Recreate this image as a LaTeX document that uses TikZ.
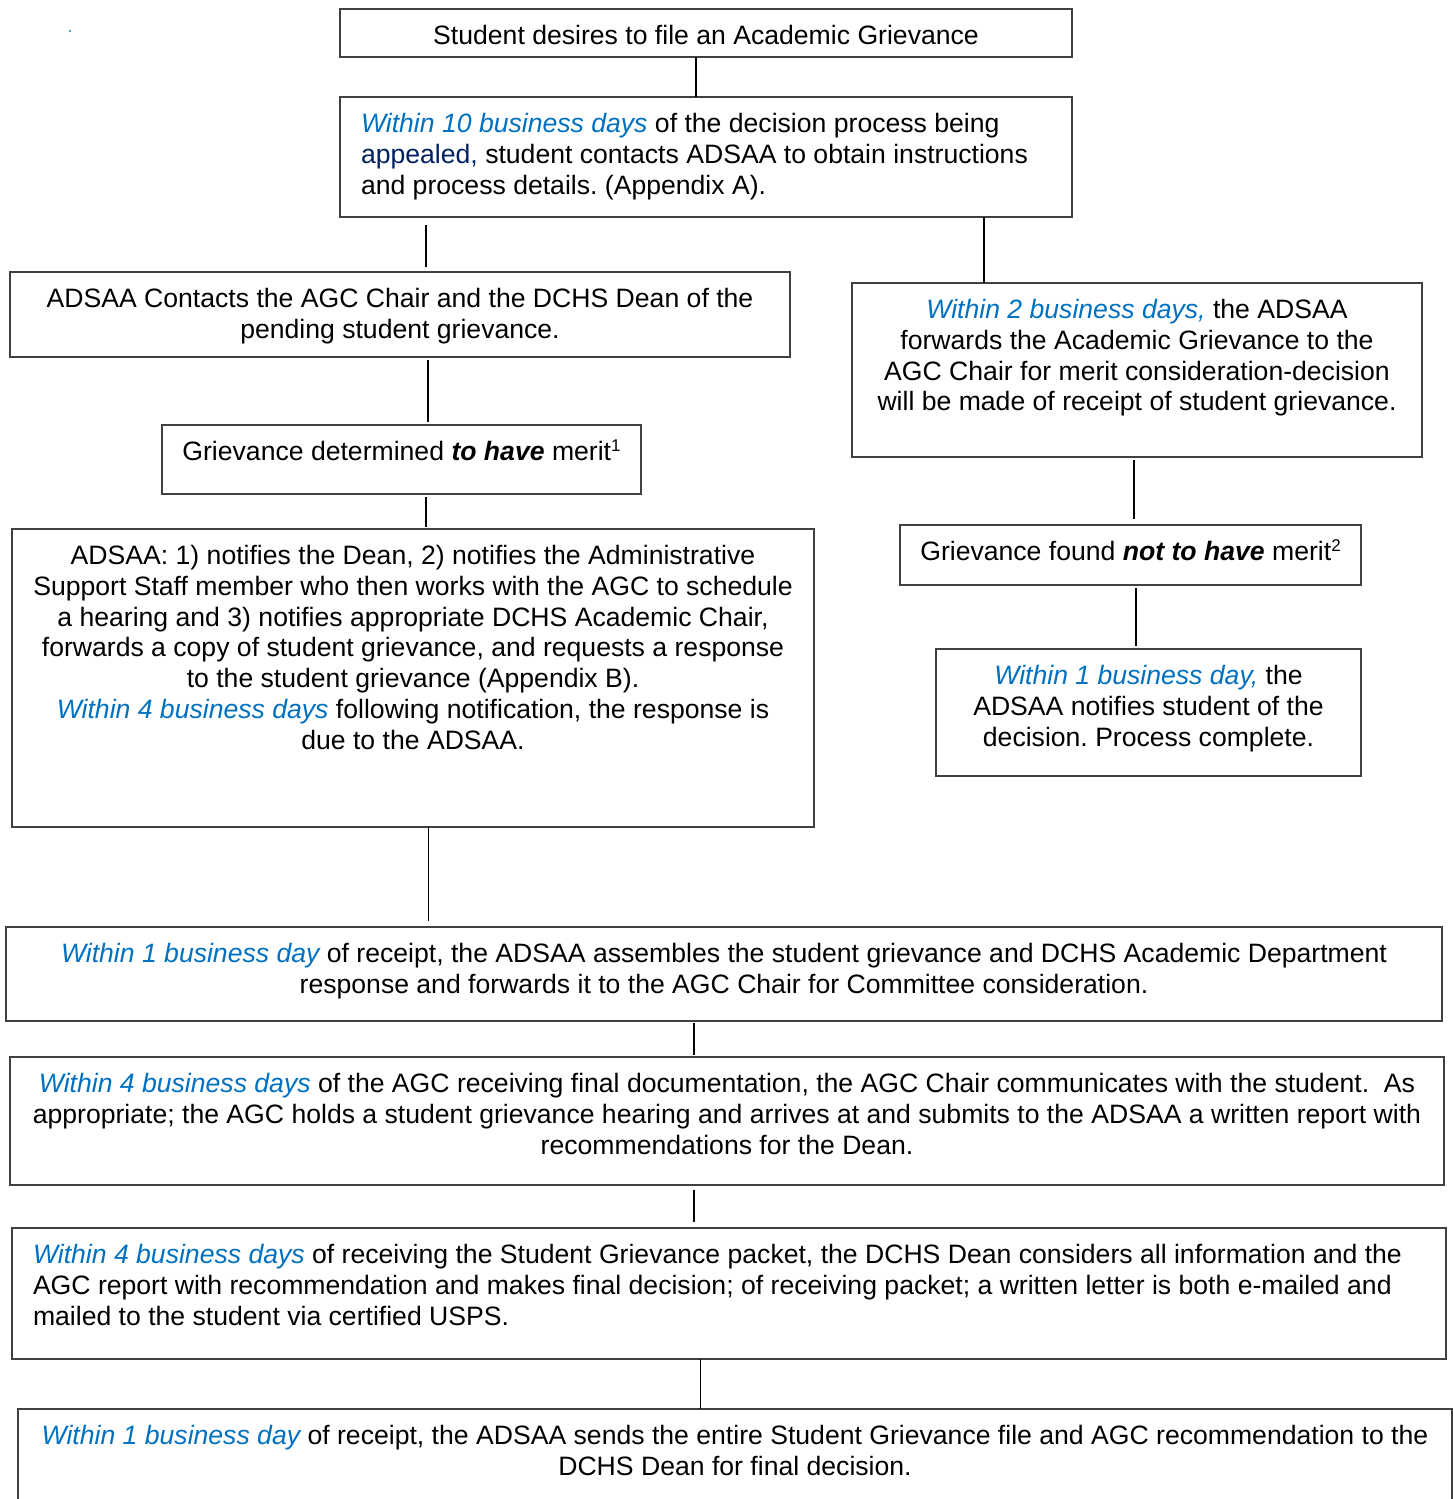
\documentclass[tikz,border=0pt]{standalone}
\usepackage{fontspec}
\setmainfont{Liberation Sans}
\usepackage{xcolor}
\definecolor{dueblue}{RGB}{0,112,192}
\definecolor{duenavy}{RGB}{0,32,96}
\frenchspacing
\newcommand{\due}[1]{{\color{dueblue}\itshape #1}}
\newcommand{\boxtext}[4]{\parbox[c][#2pt][t]{#1pt}{#3\vspace*{14pt}\strut #4}}

\begin{document}
\begin{tikzpicture}[x=1pt,y=-1pt,
   box/.style={draw=black!75,line width=1.4pt,inner xsep=10pt,inner ysep=0pt,outer sep=0pt,
               anchor=north west,font=\fontsize{26.6}{30.8}\selectfont},
   wide/.style={box,inner xsep=4pt},
   left/.style={box,inner xsep=21pt},
   link/.style={line width=1.8pt},
   thinlink/.style={line width=1pt}]
  \useasboundingbox (0,0) rectangle (1453,1499);
  \clip (0,0) rectangle (1453,1499);
  \fill[dueblue!70] (70,31) circle (1.3);
  % upper part
  \node[box] (b1) at (340,9) {\boxtext{712}{48}{\centering}{Student desires to file an Academic Grievance}};
  \node[left] (b2) at (340,97) {\boxtext{690}{120}{\raggedright}{\due{Within 10 business days} of the decision process being\\
    {\color{duenavy}appealed,} student contacts ADSAA to obtain instructions\\
    and process details. (Appendix A).}};
  \node[box] (b3) at (10,272) {\boxtext{760}{85}{\centering}{ADSAA Contacts the AGC Chair and the DCHS Dean of the\\
    pending student grievance.}};
  \node[box] (b4) at (852,283) {\boxtext{550}{174}{\centering}{\due{Within 2 business days,} the ADSAA\\
    forwards the Academic Grievance to the\\
    AGC Chair for merit consideration-decision\\
    will be made of receipt of student grievance.}};
  \node[box] (b5) at (162,425) {\boxtext{459}{69}{\centering}{Grievance determined \textbf{\textit{to have}} merit{\fontsize{17}{17}\selectfont\raisebox{0.55em}{1}}}};
  \node[box] (b6) at (12,529) {\boxtext{782}{298}{\centering}{ADSAA: 1) notifies the Dean, 2) notifies the Administrative\\
    Support Staff member who then works with the AGC to schedule\\
    a hearing and 3) notifies appropriate DCHS Academic Chair,\\
    forwards a copy of student grievance, and requests a response\\
    to the student grievance (Appendix B).\\
    \due{Within 4 business days} following notification, the response is\\
    due to the ADSAA.}};
  \node[box] (b7) at (900,525) {\boxtext{441}{60}{\centering}{Grievance found \textbf{\textit{not to have}} merit{\fontsize{17}{17}\selectfont\raisebox{0.55em}{2}}}};
  \node[box] (b8) at (936,649) {\boxtext{405}{127}{\centering}{\due{Within 1 business day,} the\\
    ADSAA notifies student of the\\
    decision. Process complete.}};
  % lower part
  \node[wide] (b9) at (6,927) {\boxtext{1428}{94}{\centering}{\due{Within 1 business day} of receipt, the ADSAA assembles the student grievance and DCHS Academic Department\\
    response and forwards it to the AGC Chair for Committee consideration.}};
  \node[wide] (b10) at (10,1057) {\boxtext{1426}{128}{\centering}{\due{Within 4 business days} of the AGC receiving final documentation, the AGC Chair communicates with the student.\ \ As\\
    appropriate; the AGC holds a student grievance hearing and arrives at and submits to the ADSAA a written report with\\
    recommendations for the Dean.}};
  \node[left] (b11) at (12,1228) {\boxtext{1392}{131}{\raggedright}{\due{Within 4 business days} of receiving the Student Grievance packet, the DCHS Dean considers all information and the\\
    AGC report with recommendation and makes final decision; of receiving packet; a written letter is both e-mailed and\\
    mailed to the student via certified USPS.}};
  \node[wide] (b12) at (18,1409) {\boxtext{1426}{120}{\centering}{\due{Within 1 business day} of receipt, the ADSAA sends the entire Student Grievance file and AGC recommendation to the\\
    DCHS Dean for final decision.}};
  % connectors
  \draw[link] (b1.south -| 696,0) -- (b2.north -| 696,0);
  \draw[link,shorten <=8pt,shorten >=5pt] (b2.south -| 426,0) -- (b3.north -| 426,0);
  \draw[link] (b2.south -| 984,0) -- (b4.north -| 984,0);
  \draw[link,shorten <=3pt,shorten >=3pt] (b3.south -| 428,0) -- (b5.north -| 428,0);
  \draw[link,shorten <=3pt,shorten >=2pt] (b5.south -| 426,0) -- (b6.north -| 426,0);
  \draw[link,shorten <=3pt,shorten >=6pt] (b4.south -| 1134,0) -- (b7.north -| 1134,0);
  \draw[link,shorten <=3pt,shorten >=3pt] (b7.south -| 1136,0) -- (b8.north -| 1136,0);
  \draw[thinlink,shorten >=6pt] (b6.south -| 428,0) -- (b9.north -| 428,0);
  \draw[link,shorten <=2pt,shorten >=2pt] (b9.south -| 694,0) -- (b10.north -| 694,0);
  \draw[link,shorten <=5pt,shorten >=6pt] (b10.south -| 694,0) -- (b11.north -| 694,0);
  \draw[thinlink] (b11.south -| 700,0) -- (b12.north -| 700,0);
\end{tikzpicture}
\end{document}
